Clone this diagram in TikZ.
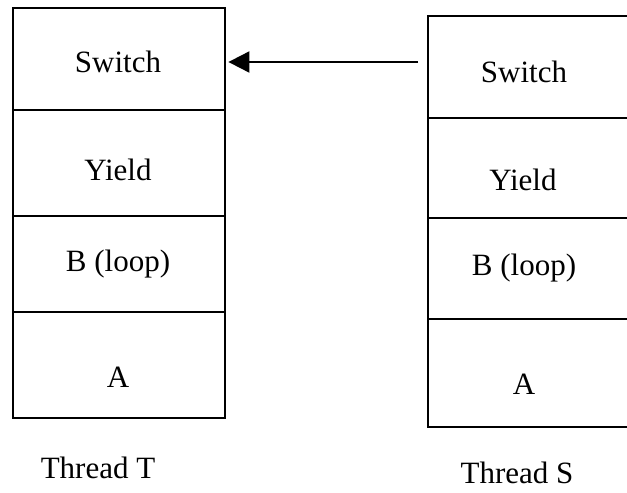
\documentclass[tikz,border=0pt]{standalone}
\usepackage{fontspec}
\setmainfont{Liberation Serif}
\usetikzlibrary{arrows.meta}
\begin{document}
\begin{tikzpicture}[x=1pt,y=-1pt,
  cell/.style={draw=black,line width=2.4pt,minimum width=212pt,inner sep=0pt,anchor=north west},
  lbl/.style={font=\fontsize{31}{36}\selectfont,inner sep=0pt}]
\useasboundingbox (0,0) rectangle (627,493);
\begin{scope}
\clip (0,0) rectangle (627,493);
% Thread T stack
\node[cell,minimum height=102pt] (t1) at (12,7) {};
\node[cell,minimum height=106pt] (t2) at (12,109) {};
\node[cell,minimum height=96pt] (t3) at (12,215) {};
\node[cell,minimum height=106pt] (t4) at (12,311) {};
% Thread S stack
\node[cell,minimum height=102pt] (s1) at (427,15) {};
\node[cell,minimum height=100pt] (s2) at (427,117) {};
\node[cell,minimum height=101pt] (s3) at (427,217) {};
\node[cell,minimum height=108pt] (s4) at (427,318) {};
\end{scope}
\node[lbl] (tsw) at (118,62) {Switch};
\node[lbl] (tyi) at (118,170) {Yield};
\node[lbl] (tbl) at (118,264) {B (loop)};
\node[lbl] (ta) at (118,377) {A};
\node[lbl] (ssw) at (524,72) {Switch};
\node[lbl] (syi) at (523,180) {Yield};
\node[lbl] (sbl) at (524,268) {B (loop)};
\node[lbl] (sa) at (524,384) {A};
\node[lbl] (tt) at (98,468) {Thread T};
\node[lbl] (ts) at (517,473) {Thread S};
\coordinate (from) at (418,62);
\draw[line width=2pt,-{Triangle[length=21pt,width=21pt]}] (from) -- (t1.east |- from) [shorten >=2pt];
\end{tikzpicture}
\end{document}
